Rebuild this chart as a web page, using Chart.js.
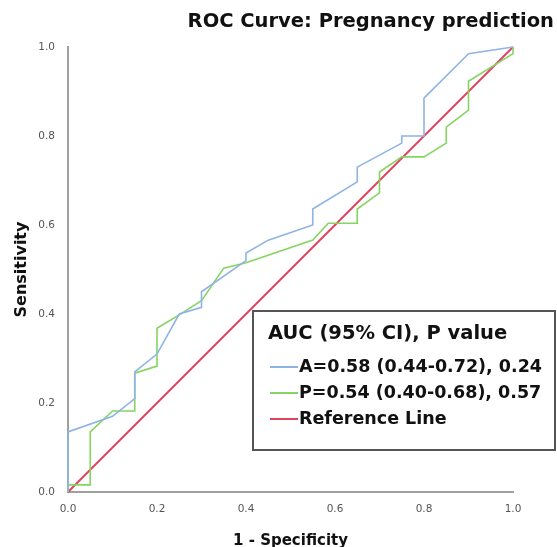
<!DOCTYPE html>
<html>
<head>
<meta charset="utf-8">
<script src="https://cdn.jsdelivr.net/npm/chart.js@4"></script>
<style>
  body { margin: 0; background: #fff; }
  canvas { display: block; }
</style>
</head>
<body>
<canvas id="roc" width="557" height="547"></canvas>
<script>
// ROC points (1 - specificity, sensitivity)
const aFpr = [0, 0, 0.10, 0.15, 0.15, 0.20, 0.25, 0.30, 0.30, 0.40, 0.40, 0.45, 0.55, 0.55, 0.65, 0.65, 0.75, 0.75, 0.80, 0.80, 0.90, 1.0];
const aTpr = [0, 0.135, 0.17, 0.21, 0.27, 0.31, 0.40, 0.415, 0.45, 0.52, 0.537, 0.566, 0.60, 0.636, 0.697, 0.73, 0.784, 0.80, 0.80, 0.885, 0.985, 1.0];

const pFpr = [0, 0, 0.05, 0.05, 0.10, 0.15, 0.15, 0.20, 0.20, 0.25, 0.30, 0.35, 0.40, 0.55, 0.585, 0.65, 0.65, 0.70, 0.70, 0.75, 0.80, 0.85, 0.85, 0.90, 0.90, 1.0, 1.0];
const pTpr = [0, 0.016, 0.016, 0.135, 0.182, 0.182, 0.267, 0.283, 0.368, 0.398, 0.43, 0.503, 0.515, 0.566, 0.604, 0.604, 0.636, 0.672, 0.719, 0.753, 0.753, 0.784, 0.82, 0.858, 0.923, 0.985, 1.0];

const refFpr = [0, 1];
const refTpr = [0, 1];

const tickValues = [0, 0.2, 0.4, 0.6, 0.8, 1.0];

const legendHeader = "AUC (95% CI), P value";
const seriesLabels = ["A=0.58 (0.44-0.72), 0.24", "P=0.54 (0.40-0.68), 0.57", "Reference Line"];
const seriesColors = ["#8fb3e6", "#86d462", "#e3405e"];

const toPoints = (xs, ys) => xs.map((x, i) => ({ x: x, y: ys[i] }));

const FONT = "'DejaVu Sans', sans-serif";

// title, axis titles and the boxed legend
const decorations = {
  id: "decorations",
  afterDraw(chart) {
    const ctx = chart.ctx;
    const area = chart.chartArea;
    ctx.save();
    ctx.fillStyle = "#111";
    ctx.textBaseline = "middle";

    ctx.font = "bold 19.5px " + FONT;
    ctx.textAlign = "right";
    ctx.fillText("ROC Curve: Pregnancy prediction", 554, 22);

    ctx.font = "bold 15px " + FONT;
    ctx.textAlign = "center";
    ctx.fillText("1 - Specificity", (area.left + area.right) / 2, 541);

    ctx.translate(22, (area.top + area.bottom) / 2);
    ctx.rotate(-Math.PI / 2);
    ctx.font = "bold 16px " + FONT;
    ctx.fillText("Sensitivity", 0, 0);
    ctx.restore();

    // legend box
    ctx.save();
    ctx.fillStyle = "#fff";
    ctx.fillRect(253, 311, 304, 139);
    ctx.strokeStyle = "#555";
    ctx.lineWidth = 2;
    ctx.strokeRect(253, 311, 302, 139);

    ctx.fillStyle = "#111";
    ctx.textBaseline = "middle";
    ctx.textAlign = "left";
    ctx.font = "bold 19.5px " + FONT;
    ctx.fillText(legendHeader, 268, 334);

    ctx.font = "bold 17.5px " + FONT;
    seriesLabels.forEach((label, i) => {
      const y = 367 + i * 26;
      ctx.strokeStyle = seriesColors[i];
      ctx.lineWidth = 2;
      ctx.beginPath();
      ctx.moveTo(270, y);
      ctx.lineTo(298, y);
      ctx.stroke();
      ctx.fillText(label, 299, y);
    });
    ctx.restore();
  }
};

new Chart(document.getElementById("roc"), {
  type: "line",
  data: {
    datasets: [
      { label: seriesLabels[0], data: toPoints(aFpr, aTpr), borderColor: seriesColors[0], borderWidth: 1.6 },
      { label: seriesLabels[1], data: toPoints(pFpr, pTpr), borderColor: seriesColors[1], borderWidth: 1.6 },
      { label: seriesLabels[2], data: toPoints(refFpr, refTpr), borderColor: seriesColors[2], borderWidth: 2 }
    ]
  },
  options: {
    responsive: false,
    animation: false,
    elements: { point: { radius: 0 }, line: { tension: 0 } },
    datasets: { line: { clip: false } },
    layout: { padding: { top: 47, right: 44, left: 0, bottom: 0 } },
    plugins: { legend: { display: false }, tooltip: { enabled: false } },
    scales: {
      x: {
        type: "linear",
        min: 0,
        max: 1,
        afterFit: (s) => { s.height = 55; },
        afterBuildTicks: (s) => { s.ticks = tickValues.map((v) => ({ value: v })); },
        grid: { display: false },
        border: { display: true, color: "#a0a0a0", width: 2 },
        ticks: { color: "#555", font: { size: 10.5, family: FONT }, padding: 3, callback: (v) => v.toFixed(1) }
      },
      y: {
        type: "linear",
        min: 0,
        max: 1,
        afterFit: (s) => { s.width = 68; },
        afterBuildTicks: (s) => { s.ticks = tickValues.map((v) => ({ value: v })); },
        grid: { display: false },
        border: { display: true, color: "#a0a0a0", width: 2 },
        ticks: { color: "#555", font: { size: 10.5, family: FONT }, padding: 5, callback: (v) => v.toFixed(1) }
      }
    }
  },
  plugins: [decorations]
});
</script>
</body>
</html>
